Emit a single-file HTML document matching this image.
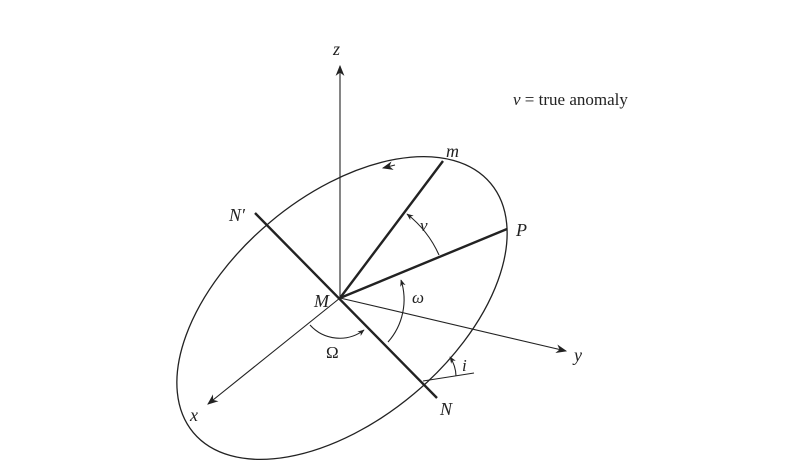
<!DOCTYPE html>
<html><head><meta charset="utf-8"><style>
html,body{margin:0;padding:0;background:#fff;width:808px;height:472px;overflow:hidden;}
svg{display:block;}
text{font-family:"Liberation Serif",serif;fill:#222;}
.i{font-style:italic;}
</style></head><body>
<svg width="808" height="472" viewBox="0 0 808 472" xmlns="http://www.w3.org/2000/svg">
<defs>
<marker id="a" viewBox="0 0 10 10" refX="9" refY="5" markerWidth="11" markerHeight="11" markerUnits="userSpaceOnUse" orient="auto">
<path d="M0,1 L10,5 L0,9 L3,5 Z" fill="#222"/></marker>
<marker id="s" viewBox="0 0 10 10" refX="9" refY="5" markerWidth="7" markerHeight="7" markerUnits="userSpaceOnUse" orient="auto">
<path d="M0,1 L10,5 L0,9 L3,5 Z" fill="#222"/></marker>
</defs>
<g fill="none" stroke="#222">
<ellipse cx="342" cy="308" rx="194" ry="112" transform="rotate(-40 342 308)" stroke-width="1.3"/>
<line x1="340" y1="298" x2="340" y2="66" stroke-width="1.1" marker-end="url(#a)"/>
<line x1="340" y1="298" x2="566" y2="351" stroke-width="1.1" marker-end="url(#a)"/>
<line x1="340" y1="298" x2="208" y2="404" stroke-width="1.1" marker-end="url(#a)"/>
<line x1="255" y1="213" x2="437" y2="398" stroke-width="2.4"/>
<line x1="340" y1="298" x2="443" y2="161" stroke-width="2.4"/>
<line x1="340" y1="298" x2="507" y2="229" stroke-width="2.4"/>
<path d="M439,255 A108,108 0 0 0 407,214" stroke-width="1.1" marker-end="url(#s)"/>
<path d="M388,342 A64,64 0 0 0 401,280" stroke-width="1.1" marker-end="url(#s)"/>
<path d="M310,325 A40,40 0 0 0 364,330" stroke-width="1.1" marker-end="url(#s)"/>
<line x1="423" y1="381" x2="474" y2="373" stroke-width="1.1"/>
<path d="M456,376 A36,36 0 0 0 450,357" stroke-width="1.1" marker-end="url(#s)"/>
<path d="M395,165 L383,168" stroke-width="1" marker-end="url(#a)"/>
</g>
<text class="i" x="333" y="55" font-size="18">z</text>
<text x="513" y="105" font-size="17"><tspan class="i">v</tspan> = true anomaly</text>
<text class="i" x="446" y="157" font-size="18">m</text>
<text class="i" x="229" y="221" font-size="18">N′</text>
<text class="i" x="516" y="236" font-size="18">P</text>
<text class="i" x="420" y="231" font-size="17">v</text>
<text class="i" x="412" y="303" font-size="17">ω</text>
<text class="i" x="314" y="307" font-size="18">M</text>
<text x="326" y="358" font-size="17">Ω</text>
<text class="i" x="462" y="371" font-size="17">i</text>
<text class="i" x="574" y="361" font-size="18">y</text>
<text class="i" x="190" y="421" font-size="18">x</text>
<text class="i" x="440" y="415" font-size="18">N</text>
</svg>
</body></html>
